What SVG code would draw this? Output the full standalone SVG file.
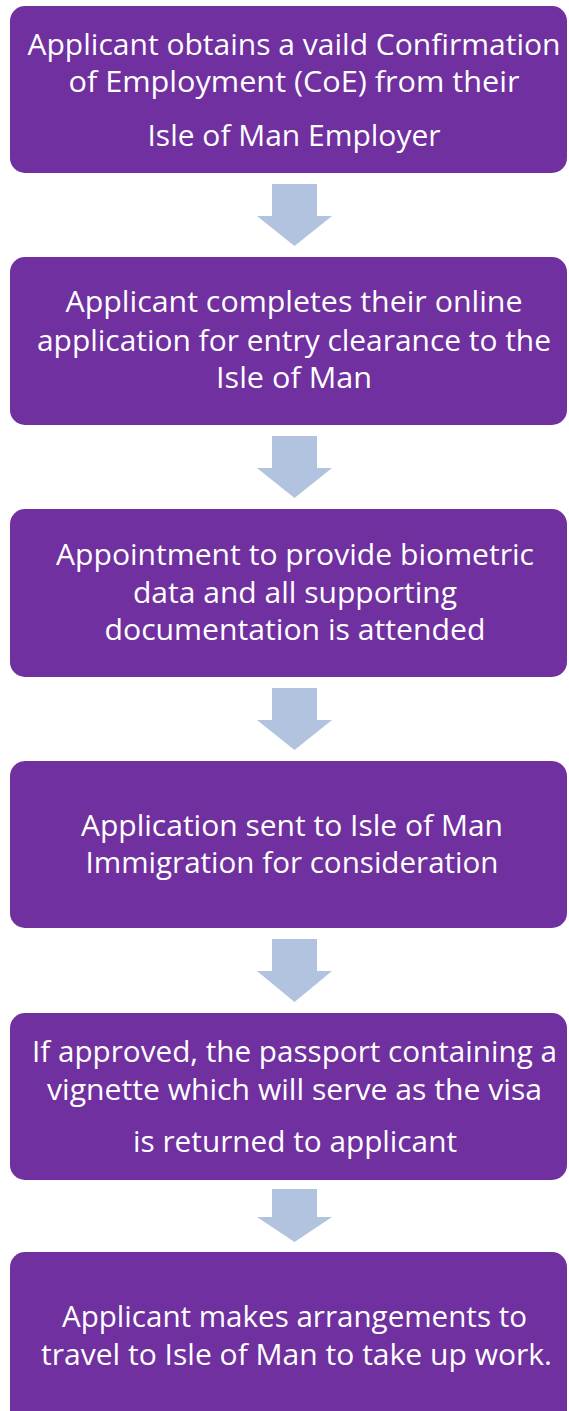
<svg xmlns="http://www.w3.org/2000/svg" width="569" height="1411" viewBox="0 0 569 1411">
<style>
.box{fill:#7030A0;}
.arr{fill:#B1C3DE;}
.t{fill:#FFFFFF;font-family:"Open Sans","Liberation Sans",sans-serif;font-size:29px;text-anchor:middle;}
</style>
<rect width="569" height="1411" fill="#FFFFFF"/>
<g id="connectors">
<polygon class="arr" points="272,184 317,184 317,216 332,216 294.5,246 257,216 272,216"/>
<polygon class="arr" points="272,436 317,436 317,468 332,468 294.5,498 257,468 272,468"/>
<polygon class="arr" points="272,688 317,688 317,720 332,720 294.5,750 257,720 272,720"/>
<polygon class="arr" points="272,939 317,939 317,971 332,971 294.5,1002 257,971 272,971"/>
<polygon class="arr" points="272,1189 317,1189 317,1217 332,1217 294.5,1242 257,1217 272,1217"/>
</g>
<g id="node1">
<rect class="box" x="10" y="6" width="557" height="167" rx="15"/>
<text class="t" x="294" y="55" textLength="533" lengthAdjust="spacingAndGlyphs">Applicant obtains a vaild Confirmation</text>
<text class="t" x="294" y="92" textLength="451" lengthAdjust="spacingAndGlyphs">of Employment (CoE) from their</text>
<text class="t" x="294" y="146" textLength="293" lengthAdjust="spacingAndGlyphs">Isle of Man Employer</text>
</g>
<g id="node2">
<rect class="box" x="10" y="257" width="557" height="168" rx="15"/>
<text class="t" x="294" y="312" textLength="457" lengthAdjust="spacingAndGlyphs">Applicant completes their online</text>
<text class="t" x="294" y="351" textLength="514" lengthAdjust="spacingAndGlyphs">application for entry clearance to the</text>
<text class="t" x="294" y="388" textLength="156" lengthAdjust="spacingAndGlyphs">Isle of Man</text>
</g>
<g id="node3">
<rect class="box" x="10" y="509" width="557" height="168" rx="15"/>
<text class="t" x="295" y="565" textLength="478" lengthAdjust="spacingAndGlyphs">Appointment to provide biometric</text>
<text class="t" x="295" y="603" textLength="324" lengthAdjust="spacingAndGlyphs">data and all supporting</text>
<text class="t" x="295" y="640" textLength="381" lengthAdjust="spacingAndGlyphs">documentation is attended</text>
</g>
<g id="node4">
<rect class="box" x="10" y="761" width="557" height="167" rx="15"/>
<text class="t" x="292" y="836" textLength="422" lengthAdjust="spacingAndGlyphs">Application sent to Isle of Man</text>
<text class="t" x="292" y="873" textLength="413" lengthAdjust="spacingAndGlyphs">Immigration for consideration</text>
</g>
<g id="node5">
<rect class="box" x="10" y="1013" width="557" height="167" rx="15"/>
<text class="t" x="294.5" y="1062" textLength="525" lengthAdjust="spacingAndGlyphs">If approved, the passport containing a</text>
<text class="t" x="294.5" y="1100" textLength="495" lengthAdjust="spacingAndGlyphs">vignette which will serve as the visa</text>
<text class="t" x="295" y="1152" textLength="324" lengthAdjust="spacingAndGlyphs">is returned to applicant</text>
</g>
<g id="node6">
<rect class="box" x="10" y="1252" width="557" height="180" rx="15"/>
<text class="t" x="294.5" y="1327" textLength="465" lengthAdjust="spacingAndGlyphs">Applicant makes arrangements to</text>
<text class="t" x="296.5" y="1365" textLength="511" lengthAdjust="spacingAndGlyphs">travel to Isle of Man to take up work.</text>
</g>
</svg>
